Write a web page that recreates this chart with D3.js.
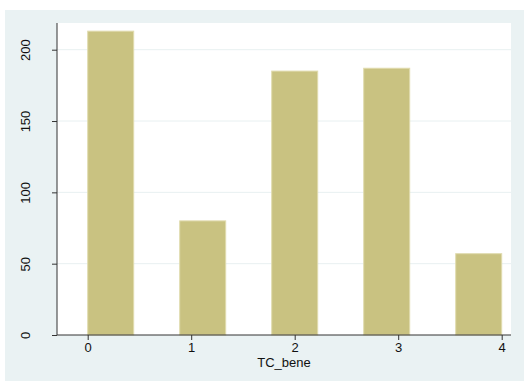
<!DOCTYPE html>
<html>
<head>
<meta charset="utf-8">
<script src="https://cdn.jsdelivr.net/npm/d3@7"></script>
<style>
  html, body { margin: 0; padding: 0; background: #ffffff; }
  svg { display: block; }
  text { font-family: "Liberation Sans", Arial, Helvetica, sans-serif; fill: #111; }
</style>
</head>
<body>
<svg id="chart" width="524" height="381"></svg>
<script>
// Histogram of TC_bene: bins of width 4/9 over [0, 4]; only occupied bins listed
const binStart = [0, 8 / 9, 16 / 9, 24 / 9, 32 / 9];
const binEnd   = [4 / 9, 12 / 9, 20 / 9, 28 / 9, 4];
const counts   = [213, 80, 185, 187, 57];
const xTicks   = [0, 1, 2, 3, 4];
const yTicks   = [0, 50, 100, 150, 200];
const xTitle   = "TC_bene";

const svg = d3.select("#chart");

// graph region
svg.append("rect")
  .attr("x", 5).attr("y", 10).attr("width", 519).attr("height", 371)
  .attr("fill", "#eaf2f3");

const plot = { left: 57, right: 511, top: 23, bottom: 335 };

svg.append("rect")
  .attr("x", plot.left).attr("y", plot.top)
  .attr("width", plot.right - plot.left).attr("height", plot.bottom - plot.top)
  .attr("fill", "#ffffff");

const x = d3.scaleLinear().domain([0, 4]).range([87.7, 501.7]);
const y = d3.scaleLinear().domain([0, 200]).range([plot.bottom, plot.bottom - 285.3]);

// horizontal grid
svg.append("g")
  .selectAll("line")
  .data(yTicks.filter(d => d > 0))
  .join("line")
  .attr("x1", plot.left).attr("x2", plot.right)
  .attr("y1", d => y(d)).attr("y2", d => y(d))
  .attr("stroke", "#e8f0f1").attr("stroke-width", 1);

// bars
svg.append("g")
  .selectAll("rect")
  .data(counts.map((c, i) => ({ c, s: binStart[i], e: binEnd[i] })))
  .join("rect")
  .attr("x", d => x(d.s))
  .attr("width", d => x(d.e) - x(d.s))
  .attr("y", d => y(d.c))
  .attr("height", d => y(0) - y(d.c))
  .attr("fill", "#c9c281")
  .attr("stroke", "#e0dbae")
  .attr("stroke-width", 1);

// y axis
const yAxis = svg.append("g")
  .attr("transform", `translate(${plot.left},0)`)
  .call(d3.axisLeft(y).tickValues(yTicks).tickSize(5).tickPadding(0).tickFormat(d3.format("d")));
yAxis.select(".domain").attr("stroke", "#333").attr("d", `M0,${plot.bottom}V${plot.top}`);
yAxis.selectAll(".tick line").attr("stroke", "#333");
yAxis.selectAll(".tick text")
  .attr("transform", "rotate(-90)")
  .attr("x", 0).attr("y", -32)
  .attr("dy", "0.35em")
  .attr("text-anchor", "middle")
  .style("font-size", "13px")
  .style("font-family", "Liberation Sans, Arial, sans-serif")
  .attr("fill", "#111");

// x axis
const xAxis = svg.append("g")
  .attr("transform", `translate(0,${plot.bottom})`)
  .call(d3.axisBottom(x).tickValues(xTicks).tickSize(5).tickPadding(3).tickFormat(d3.format("d")));
xAxis.select(".domain").attr("stroke", "#333").attr("d", `M${plot.left},0H${plot.right}`);
xAxis.selectAll(".tick line").attr("stroke", "#333");
xAxis.selectAll(".tick text")
  .style("font-size", "13px")
  .style("font-family", "Liberation Sans, Arial, sans-serif")
  .attr("fill", "#111");

// x axis title
svg.append("text")
  .attr("x", (plot.left + plot.right) / 2)
  .attr("y", 367)
  .attr("text-anchor", "middle")
  .style("font-size", "13px")
  .text(xTitle);
</script>
</body>
</html>
